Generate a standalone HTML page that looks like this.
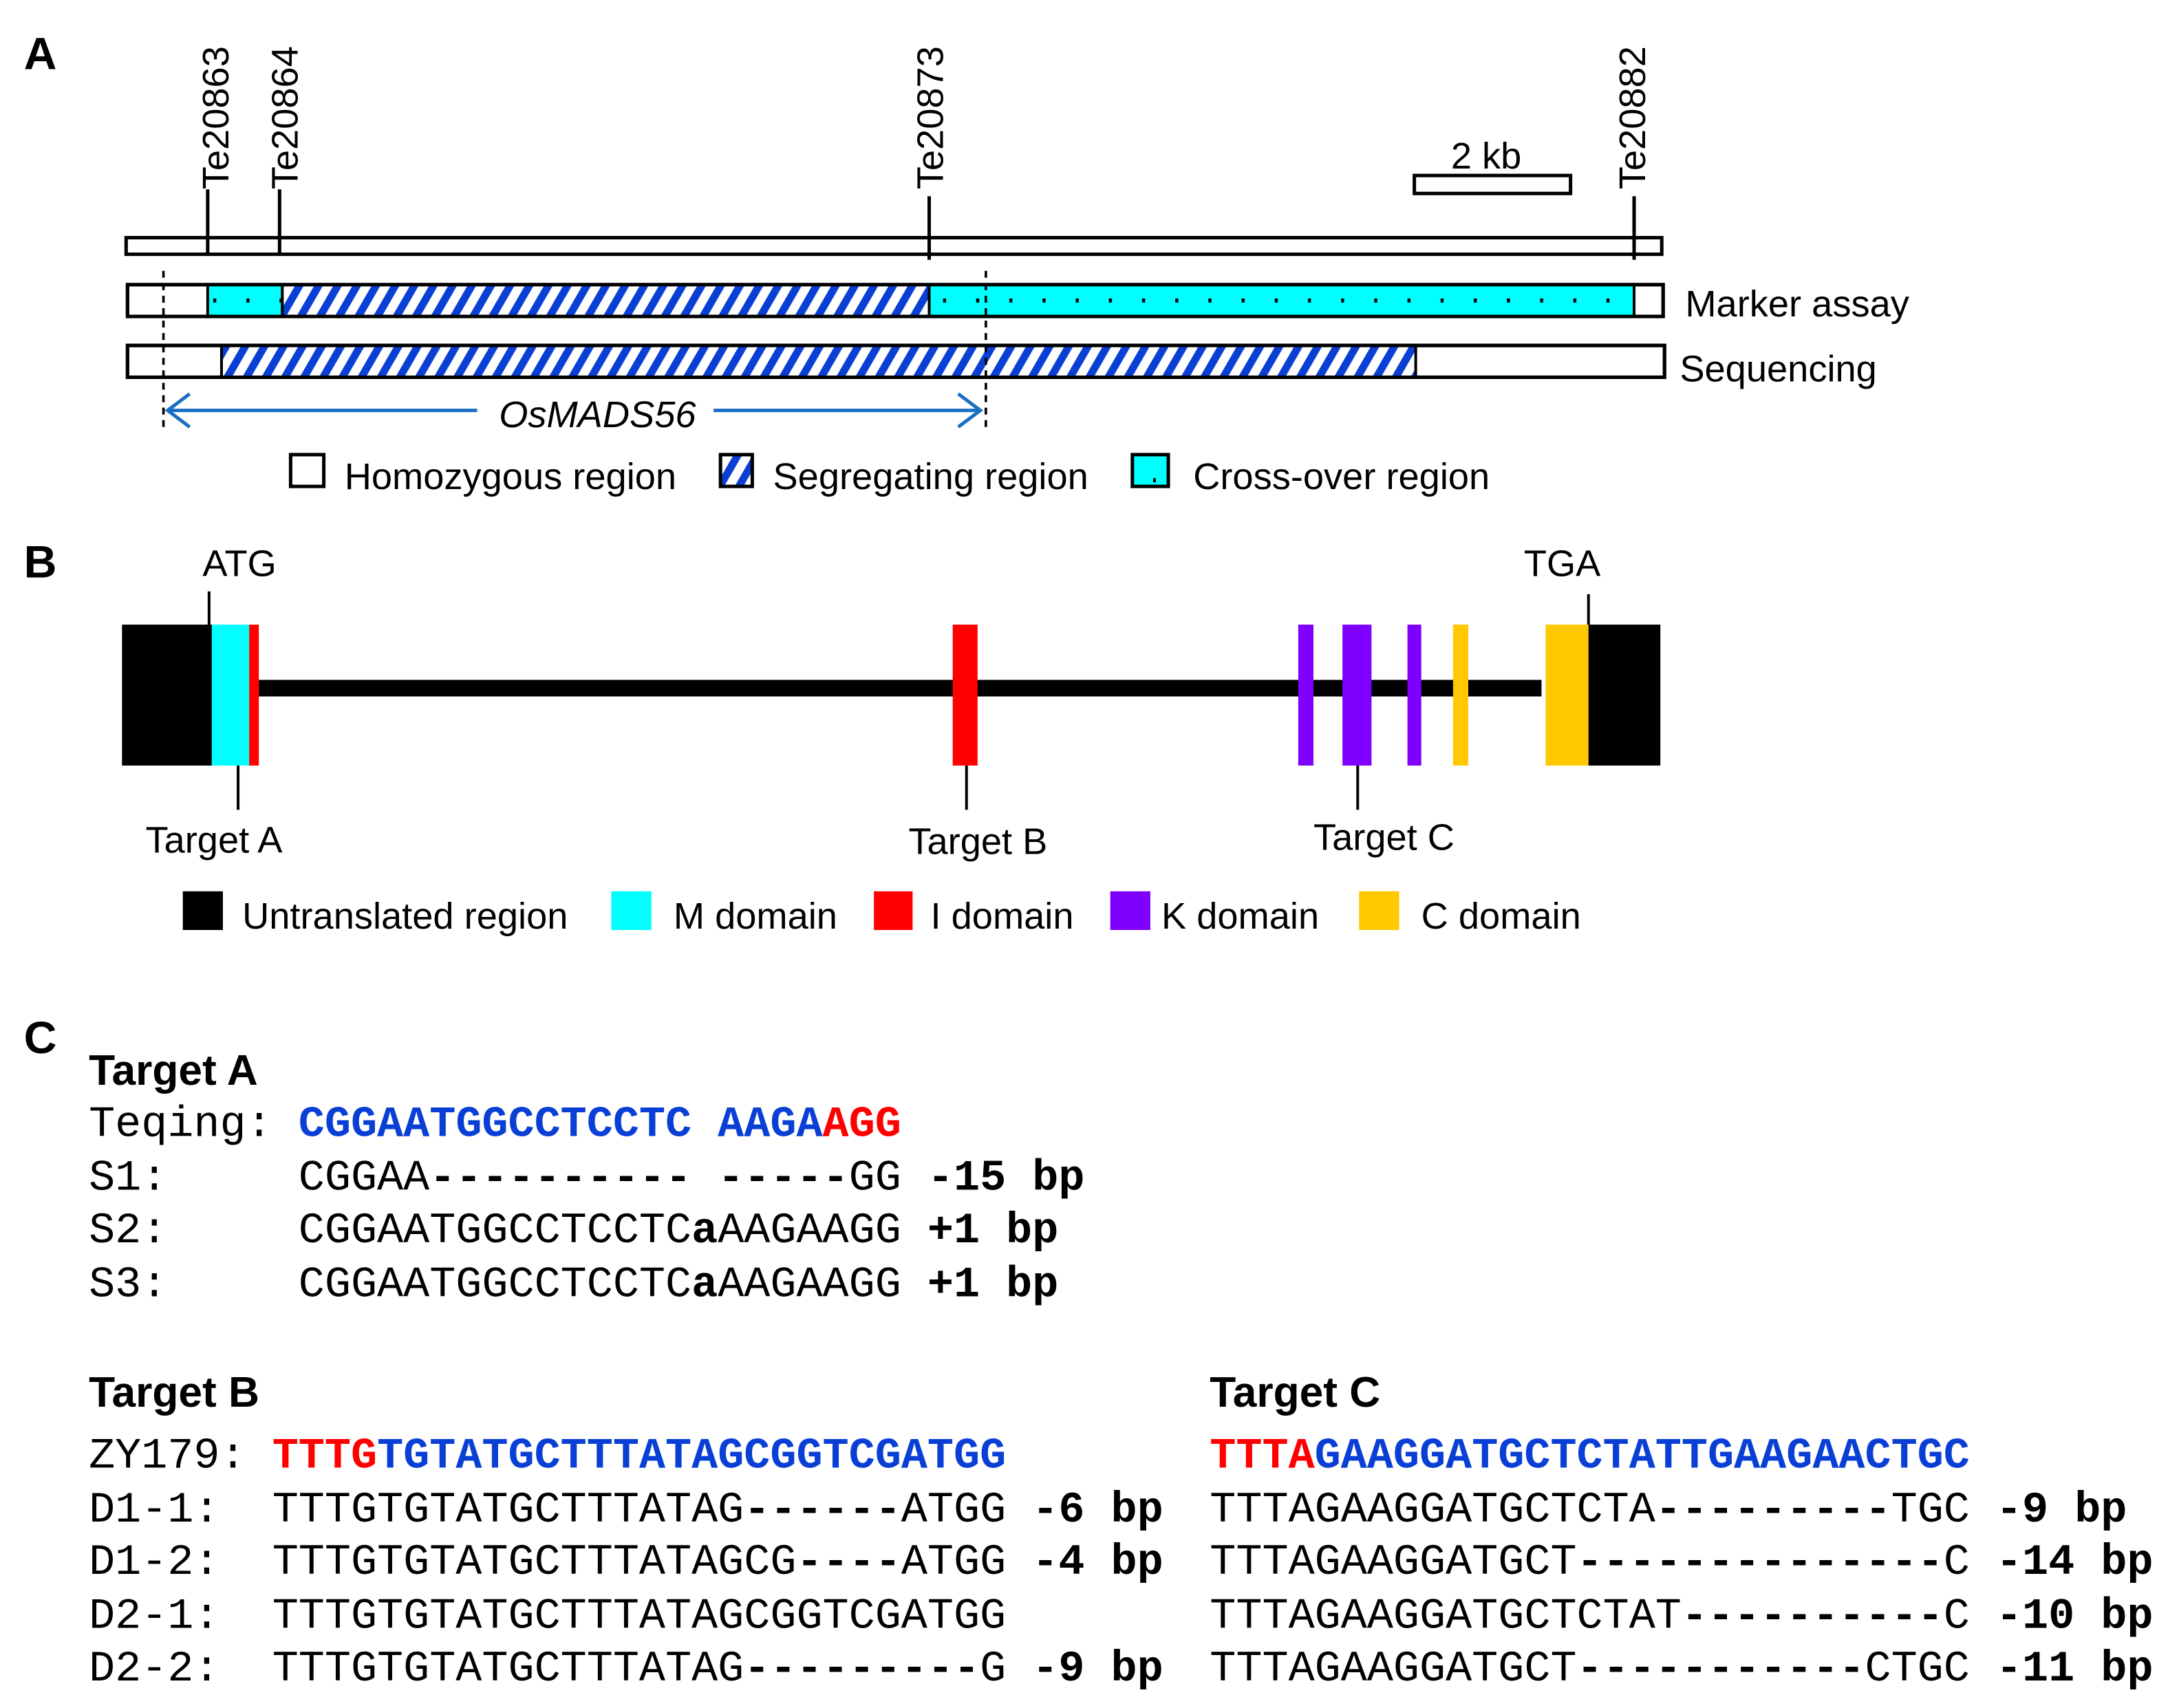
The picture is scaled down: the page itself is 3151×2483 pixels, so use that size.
<!DOCTYPE html>
<html><head><meta charset="utf-8"><style>
html,body{margin:0;padding:0;background:#fff;}
svg{display:block;}
.s{font-family:"Liberation Sans",Arial,sans-serif;font-size:27px;fill:#000;}
.m{font-family:"Liberation Mono","Courier New",monospace;font-size:31.6px;fill:#000;white-space:pre;}
.m text,.m tspan{white-space:pre;}
.b{font-weight:bold;}
</style></head><body>
<svg width="3151" height="2483" viewBox="0 0 1568 1236" xmlns="http://www.w3.org/2000/svg">
<defs>
<pattern id="h" patternUnits="userSpaceOnUse" width="12" height="12" patternTransform="rotate(30)">
<rect width="12" height="12" fill="#fff"/><rect width="5.5" height="12" fill="#0a3fd6"/>
</pattern>
<pattern id="d" patternUnits="userSpaceOnUse" x="0" y="216" width="24" height="40">
<rect width="24" height="40" fill="#00ffff"/><rect x="10" y="0" width="2.2" height="3" fill="#000"/>
</pattern>
</defs>
<text class="s b" x="17" y="50" style="font-size:33px">A</text>
<g class="s">
<text transform="translate(165,137) rotate(-90)">Te20863</text>
<text transform="translate(215,137) rotate(-90)">Te20864</text>
<text transform="translate(682,137) rotate(-90)">Te20873</text>
<text transform="translate(1190,137) rotate(-90)">Te20882</text>
<text x="1075" y="122" text-anchor="middle">2 kb</text>
<text x="1219" y="229">Marker assay</text>
<text x="1215" y="276">Sequencing</text>
<text x="432" y="309" text-anchor="middle" font-style="italic">OsMADS56</text>
<text x="249" y="354">Homozygous region</text>
<text x="559" y="354">Segregating region</text>
<text x="863" y="354">Cross-over region</text>
</g>
<g stroke="#000" stroke-width="2.5">
<line x1="150" y1="137" x2="150" y2="184"/>
<line x1="202" y1="137" x2="202" y2="184"/>
<line x1="672" y1="142" x2="672" y2="188"/>
<line x1="1182" y1="142" x2="1182" y2="188"/>
<rect x="91" y="172" width="1111" height="12" fill="none"/>
<rect x="1023" y="127" width="113" height="13" fill="none"/>
<rect x="92" y="206" width="1111" height="23" fill="#fff"/>
<rect x="150" y="206" width="54" height="23" fill="url(#d)" stroke-width="2"/>
<rect x="204" y="206" width="468" height="23" fill="url(#h)" stroke-width="2"/>
<rect x="672" y="206" width="510" height="23" fill="url(#d)" stroke-width="2"/>
<rect x="92" y="206" width="1111" height="23" fill="none"/>
<rect x="92" y="250" width="1112" height="23" fill="#fff"/>
<rect x="160" y="250" width="864" height="23" fill="url(#h)" stroke-width="2"/>
<rect x="92" y="250" width="1112" height="23" fill="none"/>
<line x1="118" y1="196" x2="118" y2="311" stroke-dasharray="5,4" stroke-width="1.8"/>
<line x1="713" y1="196" x2="713" y2="311" stroke-dasharray="5,4" stroke-width="1.8"/>
<rect x="210" y="329" width="24" height="23" fill="#fff"/>
<rect x="521" y="329" width="23" height="23" fill="url(#h)"/>
<rect x="819" y="329" width="26" height="23" fill="#00ffff"/>
<rect x="834" y="346" width="2" height="3" fill="#000" stroke="none"/>
</g>
<g stroke="#1a6fc4" stroke-width="2.5" fill="none">
<line x1="121" y1="297" x2="345" y2="297"/>
<line x1="516" y1="297" x2="709" y2="297"/>
<polyline points="137,285 121,297 137,309"/>
<polyline points="693,285 709,297 693,309"/>
</g>
<text class="s b" x="17" y="418" style="font-size:33px">B</text>
<g class="s">
<text x="173" y="417" text-anchor="middle">ATG</text>
<text x="1130" y="417" text-anchor="middle">TGA</text>
<text x="105" y="617">Target A</text>
<text x="657" y="618">Target B</text>
<text x="950" y="615">Target C</text>
<text x="175" y="672">Untranslated region</text>
<text x="487" y="672">M domain</text>
<text x="673" y="672">I domain</text>
<text x="840" y="672">K domain</text>
<text x="1028" y="672">C domain</text>
</g>
<g stroke="#000" stroke-width="2">
<line x1="151" y1="428" x2="151" y2="452"/>
<line x1="1149" y1="430" x2="1149" y2="452"/>
<line x1="172" y1="554" x2="172" y2="586"/>
<line x1="699" y1="554" x2="699" y2="586"/>
<line x1="982" y1="554" x2="982" y2="586"/>
</g>
<rect x="187" y="492" width="928" height="12" fill="#000"/>
<rect x="88" y="452" width="65" height="102" fill="#000"/>
<rect x="153" y="452" width="27" height="102" fill="#00ffff"/>
<rect x="180" y="452" width="7" height="102" fill="#ff0000"/>
<rect x="689" y="452" width="18" height="102" fill="#ff0000"/>
<rect x="939" y="452" width="11" height="102" fill="#7f00ff"/>
<rect x="971" y="452" width="21" height="102" fill="#7f00ff"/>
<rect x="1018" y="452" width="10" height="102" fill="#7f00ff"/>
<rect x="1051" y="452" width="11" height="102" fill="#ffc800"/>
<rect x="1118" y="452" width="31" height="102" fill="#ffc800"/>
<rect x="1149" y="452" width="52" height="102" fill="#000"/>
<rect x="132" y="645" width="29" height="28" fill="#000"/>
<rect x="442" y="645" width="29" height="28" fill="#00ffff"/>
<rect x="632" y="645" width="28" height="28" fill="#ff0000"/>
<rect x="803" y="645" width="29" height="28" fill="#7f00ff"/>
<rect x="983" y="645" width="29" height="28" fill="#ffc800"/>
<text class="s b" x="17" y="762" style="font-size:33px">C</text>
<g class="s b" style="font-size:31px">
<text x="64" y="785">Target A</text>
<text x="64" y="1018">Target B</text>
<text x="875" y="1018">Target C</text>
</g>
<g class="m" xml:space="preserve">
<text x="64" y="822">Teqing: <tspan font-weight="bold" fill="#0a3fd6">CGGAATGGCCTCCTC AAGA</tspan><tspan font-weight="bold" fill="#ff0000">AGG</tspan></text>
<text x="64" y="861">S1:     CGGAA<tspan font-weight="bold">---------- -----</tspan>GG <tspan font-weight="bold">-15 bp</tspan></text>
<text x="64" y="899">S2:     CGGAATGGCCTCCTC<tspan font-weight="bold">a</tspan>AAGAAGG <tspan font-weight="bold">+1 bp</tspan></text>
<text x="64" y="938">S3:     CGGAATGGCCTCCTC<tspan font-weight="bold">a</tspan>AAGAAGG <tspan font-weight="bold">+1 bp</tspan></text>
<text x="64" y="1062">ZY179: <tspan font-weight="bold" fill="#ff0000">TTTG</tspan><tspan font-weight="bold" fill="#0a3fd6">TGTATGCTTTATAGCGGTCGATGG</tspan></text>
<text x="64" y="1101">D1-1:  TTTGTGTATGCTTTATAG<tspan font-weight="bold">------</tspan>ATGG <tspan font-weight="bold">-6 bp</tspan></text>
<text x="64" y="1139">D1-2:  TTTGTGTATGCTTTATAGCG<tspan font-weight="bold">----</tspan>ATGG <tspan font-weight="bold">-4 bp</tspan></text>
<text x="64" y="1178">D2-1:  TTTGTGTATGCTTTATAGCGGTCGATGG</text>
<text x="64" y="1216">D2-2:  TTTGTGTATGCTTTATAG<tspan font-weight="bold">---------</tspan>G <tspan font-weight="bold">-9 bp</tspan></text>
<text x="875" y="1062"><tspan font-weight="bold" fill="#ff0000">TTTA</tspan><tspan font-weight="bold" fill="#0a3fd6">GAAGGATGCTCTATTGAAGAACTGC</tspan></text>
<text x="875" y="1101">TTTAGAAGGATGCTCTA<tspan font-weight="bold">---------</tspan>TGC <tspan font-weight="bold">-9 bp</tspan></text>
<text x="875" y="1139">TTTAGAAGGATGCT<tspan font-weight="bold">--------------</tspan>C <tspan font-weight="bold">-14 bp</tspan></text>
<text x="875" y="1178">TTTAGAAGGATGCTCTAT<tspan font-weight="bold">----------</tspan>C <tspan font-weight="bold">-10 bp</tspan></text>
<text x="875" y="1216">TTTAGAAGGATGCT<tspan font-weight="bold">-----------</tspan>CTGC <tspan font-weight="bold">-11 bp</tspan></text>
</g>
</svg>
</body></html>
